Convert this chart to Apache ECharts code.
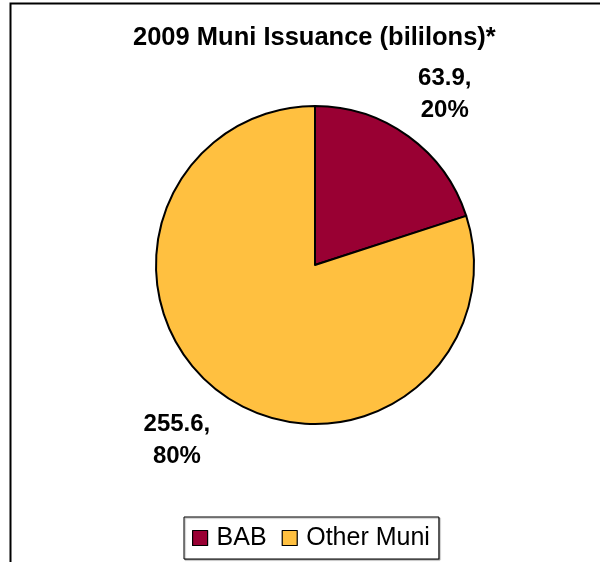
<!DOCTYPE html>
<html>
<head>
<meta charset="utf-8">
<script src="https://cdn.jsdelivr.net/npm/echarts@6/dist/echarts.min.js"></script>
<style>
  html, body { margin: 0; padding: 0; background: #fff; }
  #chart { width: 600px; height: 562px; }
</style>
</head>
<body>
<div id="chart"></div>
<script>
// 2009 municipal issuance, billions of dollars
const categories = ['BAB', 'Other Muni'];
const issuance = [63.9, 255.6];
const titleText = '2009 Muni Issuance (bililons)*';

const colors = ['#990033', '#FFC040'];
const FONT = '"Liberation Sans", Arial, sans-serif';

// pie geometry (pixels)
const cx = 315, cy = 265, radius = 159;
const labelRadius = [214, 223];
const labelNudge = [[4, 3], [-7, -5]];

const total = issuance.reduce((a, b) => a + b, 0);
const cumBefore = issuance.map((v, i) => issuance.slice(0, i).reduce((a, b) => a + b, 0));

const chart = echarts.init(document.getElementById('chart'), null, { renderer: 'canvas' });

chart.setOption({
  backgroundColor: '#ffffff',
  animation: false,
  color: colors,
  title: {
    text: titleText,
    left: 133,
    top: 23,
    padding: 0,
    textStyle: {
      fontFamily: FONT,
      fontSize: 25.5,
      fontWeight: 'bold',
      color: '#000',
      lineHeight: 30
    }
  },
  legend: {
    data: categories,
    left: 184,
    top: 517,
    orient: 'horizontal',
    icon: 'rect',
    itemWidth: 15,
    itemHeight: 15,
    itemGap: 15,
    padding: [7, 9, 7, 8],
    borderColor: '#000',
    borderWidth: 1,
    shadowColor: 'rgba(0,0,0,0.35)',
    shadowOffsetX: 1,
    shadowOffsetY: 1,
    shadowBlur: 1,
    backgroundColor: '#fff',
    itemStyle: { borderColor: '#000', borderWidth: 1.2 },
    textStyle: {
      fontFamily: FONT,
      fontSize: 25,
      color: '#000',
      lineHeight: 28,
      padding: [0, 0, 0, 4]
    },
    selectedMode: false
  },
  graphic: [{
    type: 'rect',
    shape: { x: 10.5, y: 3.5, width: 800, height: 800 },
    style: { fill: null, stroke: '#000', lineWidth: 2 },
    silent: true,
    z: 100
  }],
  series: [{
    type: 'pie',
    center: [cx, cy],
    radius: radius,
    startAngle: 90,
    clockwise: true,
    percentPrecision: 0,
    avoidLabelOverlap: false,
    data: categories.map((name, i) => ({ name: name, value: issuance[i] })),
    itemStyle: { borderColor: '#000', borderWidth: 2 },
    emphasis: { disabled: true },
    label: {
      show: true,
      position: 'inside',
      formatter: '{c},\n{d}%',
      fontFamily: FONT,
      fontSize: 24,
      fontWeight: 'bold',
      color: '#000',
      lineHeight: 32,
      align: 'center'
    },
    labelLine: { show: false },
    labelLayout: function (params) {
      const i = params.dataIndex;
      const midFrac = (cumBefore[i] + issuance[i] / 2) / total;
      const a = (90 - 360 * midFrac) * Math.PI / 180;
      return {
        x: cx + labelRadius[i] * Math.cos(a) + labelNudge[i][0],
        y: cy - labelRadius[i] * Math.sin(a) + labelNudge[i][1],
        align: 'center',
        verticalAlign: 'middle'
      };
    }
  }]
});
</script>
</body>
</html>
